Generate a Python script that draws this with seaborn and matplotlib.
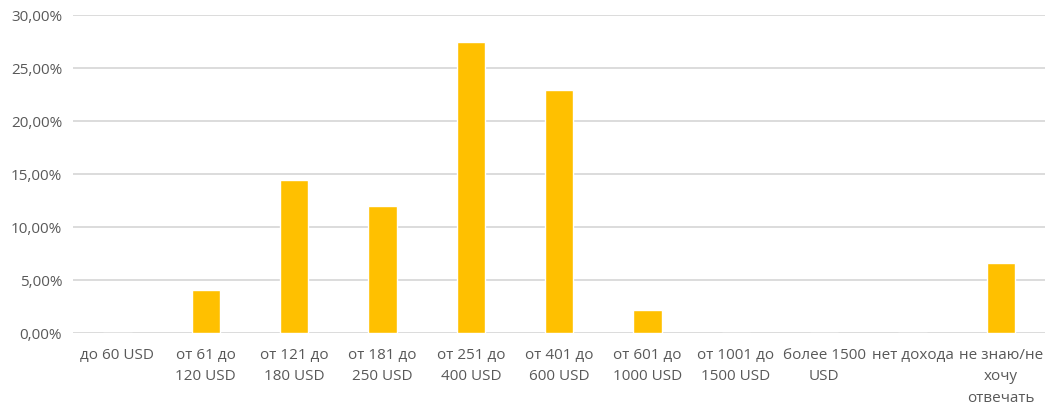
import numpy as np
import pandas as pd
import seaborn as sns
import matplotlib.pyplot as plt
from matplotlib.ticker import FuncFormatter

# income groups and share of respondents (%)
categories = ["до 60 USD", "от 61 до\n120 USD", "от 121 до\n180 USD", "от 181 до\n250 USD",
              "от 251 до\n400 USD", "от 401 до\n600 USD", "от 601 до\n1000 USD",
              "от 1001 до\n1500 USD", "более 1500\nUSD", "нет дохода", "не знаю/не\nхочу\nотвечать"]
shares = [0.0, 4.1, 14.4, 12.0, 27.5, 22.95, 2.2, 0.0, 0.0, 0.0, 6.6]

df = pd.DataFrame({"cat": categories, "share": shares})

sns.set_style("white")
plt.rcParams['font.family'] = ['Open Sans', 'DejaVu Sans']
text_col = "#595959"

fig = plt.figure(figsize=(10.61, 4.18), dpi=100)
ax = fig.add_axes([0.069, 0.203, 0.916, 0.761])

sns.barplot(data=df, x="cat", y="share", color="#FFC000", saturation=1, width=0.32, ax=ax, zorder=3)

ax.set_ylim(0, 30)
ax.set_yticks(np.arange(0, 31, 5))
ax.yaxis.set_major_formatter(FuncFormatter(lambda v, p: f"{v:.2f}".replace(".", ",") + "%"))
ax.grid(axis="y", color="#D9D9D9", linewidth=1.3, zorder=0)
ax.set_axisbelow(True)
for s in ax.spines.values():
    s.set_visible(False)
ax.set_xlabel("")
ax.set_ylabel("")
ax.tick_params(axis="both", length=0, colors=text_col, labelsize=11)
ax.tick_params(axis="x", pad=11)
ax.tick_params(axis="y", pad=8)
for lbl in ax.get_xticklabels():
    lbl.set_linespacing(1.55)
ax.set_xlim(-0.5, len(categories) - 0.5)

plt.savefig("out.png", dpi=100)
